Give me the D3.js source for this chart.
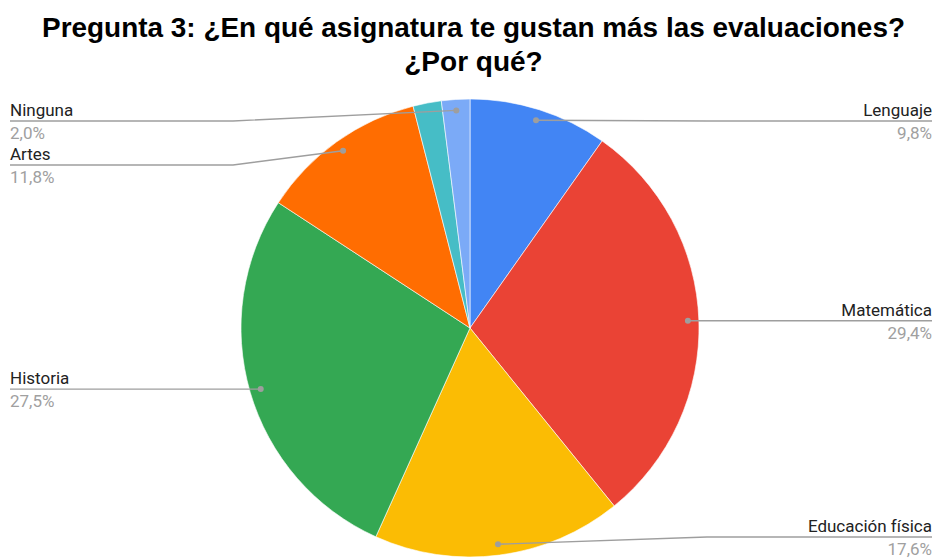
<!DOCTYPE html>
<html>
<head>
<meta charset="utf-8">
<script src="https://cdn.jsdelivr.net/npm/d3@7"></script>
<style>
  html, body { margin: 0; padding: 0; background: #fff; }
  svg { display: block; }
</style>
</head>
<body>
<svg id="chart" width="934" height="559"></svg>
<script>
// Survey answers: subject whose evaluations students like best
const categories = ["Lenguaje", "Matemática", "Educación física", "Historia", "Artes", "", "Ninguna"];
const values = [9.8, 29.4, 17.6, 27.5, 11.8, 2.0, 2.0];
const valueLabels = ["9,8%", "29,4%", "17,6%", "27,5%", "11,8%", "2,0%", "2,0%"];
const colors = ["#4285f4", "#ea4335", "#fbbc04", "#34a853", "#ff6d01", "#46bdc6", "#7baaf7"];
const titleLines = ["Pregunta 3: ¿En qué asignatura te gustan más las evaluaciones?", "¿Por qué?"];

const W = 934, H = 559;
const cx = 470, cy = 328, R = 229;
const svg = d3.select("#chart");

// Title
const title = svg.append("g")
  .attr("font-family", "'Liberation Sans', Arial, sans-serif")
  .attr("font-weight", "bold")
  .attr("font-size", 28)
  .attr("fill", "#000");
titleLines.forEach((t, i) => {
  const el = title.append("text")
    .attr("x", 473.5)
    .attr("y", 37 + i * 34)
    .attr("text-anchor", "middle")
    .text(t);
  // condense the heading slightly so the first line fits the plot width
  const natural = el.node().getComputedTextLength();
  const ratio = 863 / d3.select(title.node().firstChild).node().getComputedTextLength();
  el.attr("textLength", natural * Math.min(1, ratio)).attr("lengthAdjust", "spacingAndGlyphs");
});

// Pie
const data = categories.map((c, i) => ({ name: c, value: values[i], label: valueLabels[i], color: colors[i] }));
const pie = d3.pie().value(d => d.value).sort(null);
const arcs = pie(data);
const arc = d3.arc().innerRadius(0).outerRadius(R);

const g = svg.append("g").attr("transform", `translate(${cx},${cy})`);
g.selectAll("path.slice")
  .data(arcs)
  .join("path")
  .attr("class", "slice")
  .attr("d", arc)
  .attr("fill", d => d.data.color)
  .attr("stroke", "#fff")
  .attr("stroke-width", 0.6);

// Callout labels
const dotR = R * 0.952;
const labelled = arcs.filter(a => a.data.name !== "").map(a => {
  const mid = (a.startAngle + a.endAngle) / 2;
  const px = cx + dotR * Math.sin(mid);
  const py = cy - dotR * Math.cos(mid);
  return { a, px, py, right: Math.sin(mid) >= 0 };
});

const minY = 121, maxY = 537, gap = 44;
["left", "right"].forEach(side => {
  const items = labelled.filter(d => (side === "right") === d.right).sort((p, q) => p.py - q.py);
  items.forEach(d => { d.ly = Math.max(minY, Math.min(maxY, d.py)); });
  for (let i = 1; i < items.length; i++) {
    if (items[i].ly - items[i - 1].ly < gap) items[i].ly = items[i - 1].ly + gap;
  }
});

const lab = svg.append("g")
  .attr("font-family", "Roboto, 'Noto Sans', sans-serif")
  .attr("font-size", 17);

labelled.forEach(d => {
  const bendX = d.right ? cx + 237 : cx - 237;
  const endX = d.right ? W - 2 : 10;
  const pts = Math.abs(d.ly - d.py) < 0.5
    ? [[d.px, d.ly], [endX, d.ly]]
    : [[d.px, d.py], [bendX, d.ly], [endX, d.ly]];
  lab.append("path")
    .attr("d", d3.line()(pts))
    .attr("fill", "none")
    .attr("stroke", "#9e9e9e")
    .attr("stroke-width", 1.4);
  lab.append("circle")
    .attr("cx", d.px).attr("cy", d.py).attr("r", 3)
    .attr("fill", "#9e9e9e");
  const anchor = d.right ? "end" : "start";
  lab.append("text")
    .attr("x", endX).attr("y", d.ly - 5)
    .attr("text-anchor", anchor)
    .attr("fill", "#222")
    .text(d.a.data.name);
  lab.append("text")
    .attr("x", endX).attr("y", d.ly + 18)
    .attr("text-anchor", anchor)
    .attr("fill", "#a0a0a0")
    .text(d.a.data.label);
});
</script>
</body>
</html>
